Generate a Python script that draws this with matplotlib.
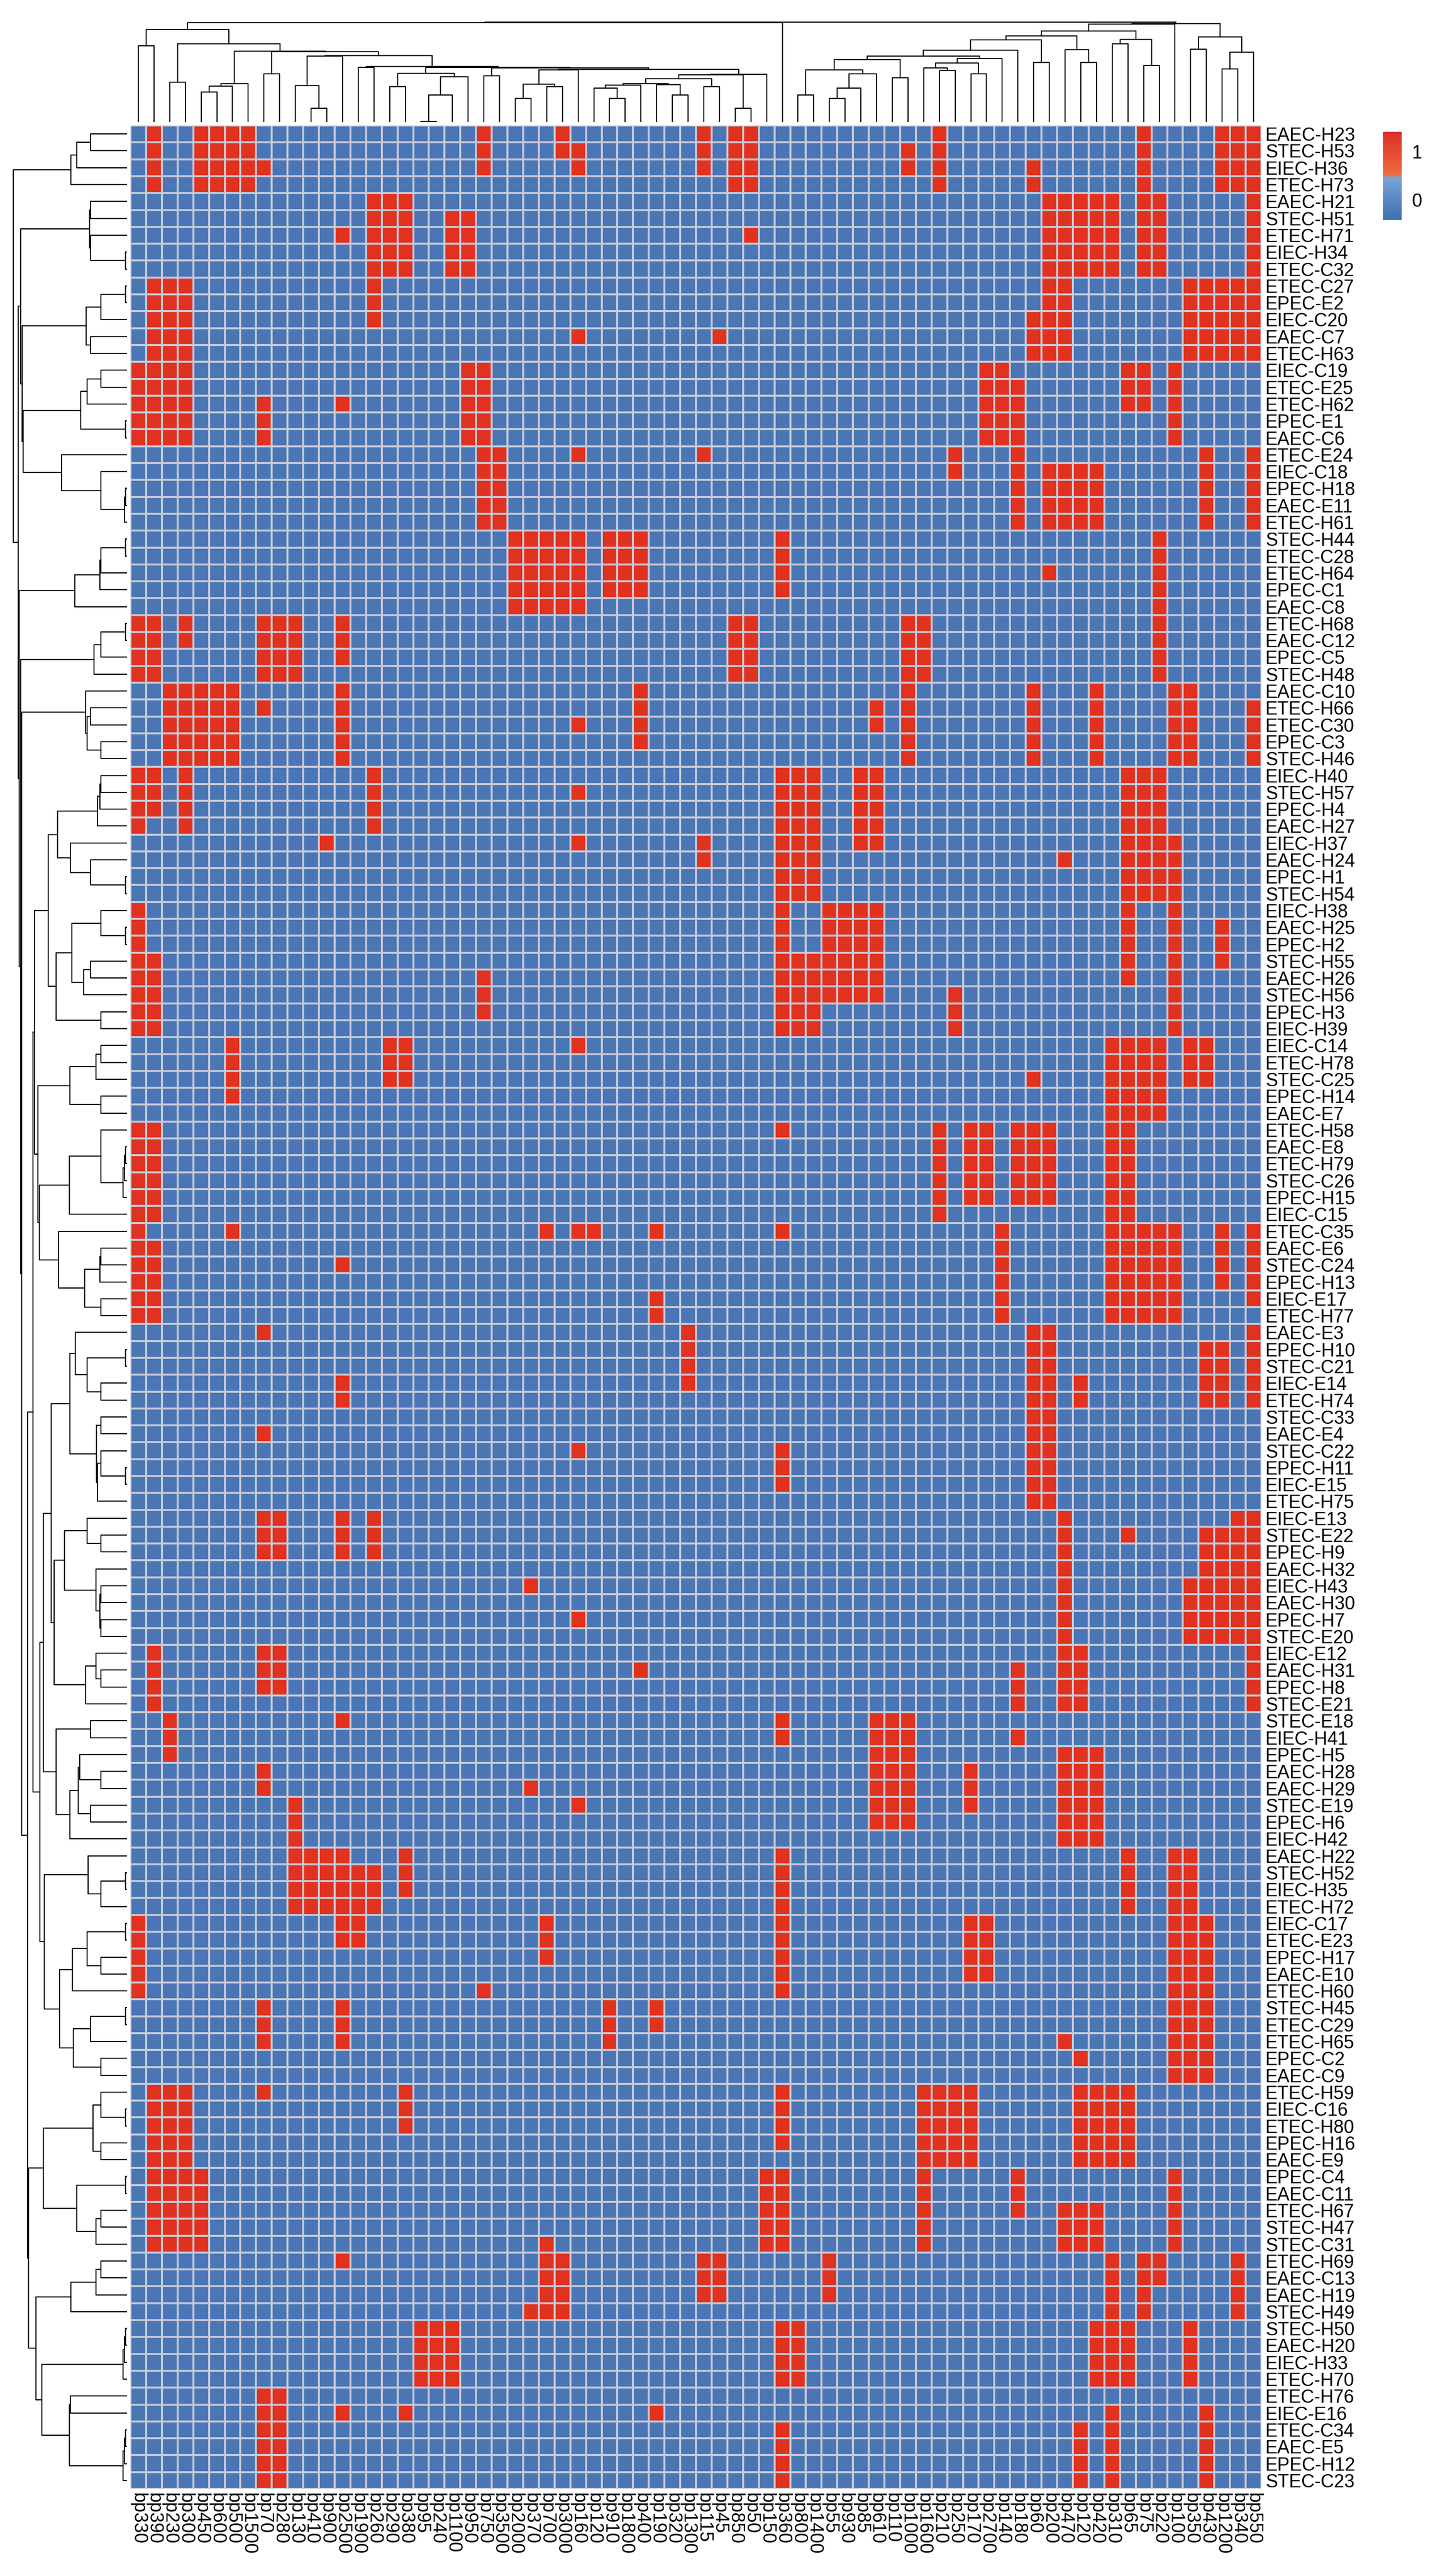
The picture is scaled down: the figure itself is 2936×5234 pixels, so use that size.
import numpy as np
import matplotlib
matplotlib.use("Agg")
import matplotlib.pyplot as plt
from matplotlib.colors import ListedColormap, LinearSegmentedColormap

plt.rcParams['font.family'] = ['Liberation Sans', 'DejaVu Sans']

row_labels = [
    "EAEC-H23", "STEC-H53", "EIEC-H36", "ETEC-H73", "EAEC-H21", "STEC-H51", "ETEC-H71", "EIEC-H34", "ETEC-C32", "ETEC-C27",
    "EPEC-E2", "EIEC-C20", "EAEC-C7", "ETEC-H63", "EIEC-C19", "ETEC-E25", "ETEC-H62", "EPEC-E1", "EAEC-C6", "ETEC-E24",
    "EIEC-C18", "EPEC-H18", "EAEC-E11", "ETEC-H61", "STEC-H44", "ETEC-C28", "ETEC-H64", "EPEC-C1", "EAEC-C8", "ETEC-H68",
    "EAEC-C12", "EPEC-C5", "STEC-H48", "EAEC-C10", "ETEC-H66", "ETEC-C30", "EPEC-C3", "STEC-H46", "EIEC-H40", "STEC-H57",
    "EPEC-H4", "EAEC-H27", "EIEC-H37", "EAEC-H24", "EPEC-H1", "STEC-H54", "EIEC-H38", "EAEC-H25", "EPEC-H2", "STEC-H55",
    "EAEC-H26", "STEC-H56", "EPEC-H3", "EIEC-H39", "EIEC-C14", "ETEC-H78", "STEC-C25", "EPEC-H14", "EAEC-E7", "ETEC-H58",
    "EAEC-E8", "ETEC-H79", "STEC-C26", "EPEC-H15", "EIEC-C15", "ETEC-C35", "EAEC-E6", "STEC-C24", "EPEC-H13", "EIEC-E17",
    "ETEC-H77", "EAEC-E3", "EPEC-H10", "STEC-C21", "EIEC-E14", "ETEC-H74", "STEC-C33", "EAEC-E4", "STEC-C22", "EPEC-H11",
    "EIEC-E15", "ETEC-H75", "EIEC-E13", "STEC-E22", "EPEC-H9", "EAEC-H32", "EIEC-H43", "EAEC-H30", "EPEC-H7", "STEC-E20",
    "EIEC-E12", "EAEC-H31", "EPEC-H8", "STEC-E21", "STEC-E18", "EIEC-H41", "EPEC-H5", "EAEC-H28", "EAEC-H29", "STEC-E19",
    "EPEC-H6", "EIEC-H42", "EAEC-H22", "STEC-H52", "EIEC-H35", "ETEC-H72", "EIEC-C17", "ETEC-E23", "EPEC-H17", "EAEC-E10",
    "ETEC-H60", "STEC-H45", "ETEC-C29", "ETEC-H65", "EPEC-C2", "EAEC-C9", "ETEC-H59", "EIEC-C16", "ETEC-H80", "EPEC-H16",
    "EAEC-E9", "EPEC-C4", "EAEC-C11", "ETEC-H67", "STEC-H47", "STEC-C31", "ETEC-H69", "EAEC-C13", "EAEC-H19", "STEC-H49",
    "STEC-H50", "EAEC-H20", "EIEC-H33", "ETEC-H70", "ETEC-H76", "EIEC-E16", "ETEC-C34", "EAEC-E5", "EPEC-H12", "STEC-C23",
]

col_labels = [
    "bp330", "bp390", "bp230", "bp300", "bp450", "bp600", "bp500", "bp1500", "bp70", "bp280",
    "bp130", "bp410", "bp900", "bp2500", "bp1900", "bp260", "bp290", "bp380", "bp95", "bp240",
    "bp1100", "bp950", "bp750", "bp3500", "bp2000", "bp370", "bp700", "bp3000", "bp160", "bp120",
    "bp910", "bp1800", "bp400", "bp190", "bp320", "bp1300", "bp115", "bp45", "bp850", "bp50",
    "bp150", "bp360", "bp800", "bp1400", "bp55", "bp930", "bp85", "bp610", "bp110", "bp1000",
    "bp1600", "bp210", "bp250", "bp170", "bp2700", "bp140", "bp180", "bp60", "bp200", "bp470",
    "bp120", "bp420", "bp310", "bp65", "bp75", "bp220", "bp100", "bp350", "bp430", "bp1200",
    "bp340", "bp550",
]

# red (=1) blocks: (first row, last row, first col, last col)
red_blocks = [
    (0, 3, 1, 1), (0, 3, 4, 7), (2, 2, 8, 8), (0, 2, 22, 22), (0, 1, 27, 27), (1, 2, 28, 28),
    (0, 2, 36, 36), (0, 3, 38, 39), (1, 2, 49, 49), (0, 3, 51, 51), (2, 3, 57, 57), (0, 8, 64, 64),
    (0, 3, 69, 71),
    (4, 8, 15, 17), (5, 8, 20, 21), (6, 6, 13, 13), (6, 6, 39, 39), (4, 8, 58, 62), (4, 8, 65, 65),
    (4, 13, 71, 71),
    (9, 13, 1, 3), (9, 11, 15, 15), (12, 12, 28, 28), (12, 12, 37, 37), (11, 13, 57, 57),
    (9, 13, 58, 59), (9, 13, 67, 70),
    (14, 18, 0, 3), (16, 18, 8, 8), (16, 16, 13, 13), (14, 18, 21, 22), (14, 18, 54, 55),
    (15, 18, 56, 56), (14, 16, 63, 64), (14, 18, 66, 66),
    (19, 23, 22, 23), (19, 19, 28, 28), (19, 19, 36, 36), (19, 20, 52, 52), (19, 23, 56, 56),
    (20, 23, 58, 61), (19, 23, 68, 68), (19, 23, 71, 71),
    (24, 28, 24, 28), (24, 27, 30, 32), (24, 27, 41, 41), (26, 26, 58, 58), (24, 28, 65, 65),
    (29, 32, 0, 1), (29, 30, 3, 3), (29, 32, 8, 10), (29, 31, 13, 13), (29, 32, 38, 39),
    (29, 32, 49, 50), (29, 32, 65, 65),
    (33, 37, 2, 6), (34, 34, 8, 8), (33, 37, 13, 13), (35, 35, 28, 28), (33, 36, 32, 32),
    (34, 35, 47, 47), (33, 37, 49, 49), (33, 37, 57, 57), (33, 37, 61, 61), (33, 37, 66, 67),
    (34, 37, 71, 71),
    (38, 41, 0, 0), (38, 40, 1, 1), (38, 41, 3, 3), (38, 41, 15, 15), (39, 39, 28, 28),
    (38, 45, 41, 43), (38, 42, 46, 47), (43, 43, 59, 59), (38, 45, 63, 65), (42, 45, 66, 66),
    (42, 42, 12, 12), (42, 43, 36, 36), (42, 42, 28, 28),
    (46, 53, 0, 0), (49, 53, 1, 1), (46, 53, 41, 41), (49, 53, 42, 43), (46, 51, 44, 47),
    (50, 52, 22, 22), (51, 53, 52, 52), (46, 50, 63, 63), (46, 53, 66, 66), (47, 49, 69, 69),
    (54, 57, 6, 6), (54, 56, 16, 17), (54, 58, 62, 65), (54, 56, 67, 68), (54, 54, 28, 28),
    (56, 56, 57, 57),
    (59, 64, 0, 1), (59, 59, 41, 41), (59, 64, 51, 51), (59, 63, 53, 54), (59, 63, 56, 58),
    (59, 64, 62, 63),
    (65, 70, 0, 0), (66, 70, 1, 1), (65, 65, 6, 6), (67, 67, 13, 13), (65, 65, 26, 26),
    (65, 65, 28, 29), (65, 65, 33, 33), (65, 65, 41, 41), (65, 70, 55, 55), (65, 70, 62, 66),
    (65, 68, 69, 69), (65, 69, 71, 71), (69, 70, 33, 33),
    (71, 71, 8, 8), (71, 74, 35, 35), (71, 81, 57, 58), (74, 75, 60, 60), (72, 75, 68, 69),
    (71, 75, 71, 71), (74, 75, 13, 13), (77, 77, 8, 8), (78, 78, 28, 28), (78, 80, 41, 41),
    (82, 84, 8, 9), (82, 84, 13, 13), (82, 84, 15, 15), (82, 89, 59, 59), (83, 83, 63, 63),
    (83, 85, 68, 69), (82, 85, 70, 71), (86, 89, 67, 71), (86, 86, 25, 25), (88, 88, 28, 28),
    (90, 93, 1, 1), (90, 92, 8, 9), (91, 91, 32, 32), (90, 93, 59, 60), (90, 93, 71, 71),
    (91, 93, 56, 56),
    (94, 96, 2, 2), (97, 98, 8, 8), (99, 101, 10, 10), (94, 94, 13, 13), (94, 95, 41, 41),
    (94, 100, 47, 49), (97, 99, 53, 53), (95, 95, 56, 56), (96, 101, 59, 61), (98, 98, 25, 25),
    (99, 99, 28, 28),
    (102, 105, 10, 13), (103, 105, 14, 15), (102, 104, 17, 17), (102, 105, 41, 41),
    (102, 105, 63, 63), (102, 105, 66, 67),
    (106, 110, 0, 0), (106, 107, 13, 14), (106, 108, 26, 26), (106, 110, 41, 41),
    (106, 109, 53, 54), (106, 115, 66, 68), (110, 110, 22, 22), (111, 113, 30, 30),
    (111, 112, 33, 33), (111, 113, 13, 13), (111, 113, 8, 8), (113, 113, 59, 59), (114, 114, 60, 60),
    (116, 120, 1, 3), (116, 116, 8, 8), (116, 118, 17, 17), (116, 119, 41, 41), (116, 120, 50, 53),
    (116, 120, 60, 63),
    (121, 125, 1, 4), (121, 125, 40, 41), (121, 125, 50, 50), (121, 123, 56, 56),
    (123, 125, 59, 61), (121, 125, 66, 66), (125, 125, 26, 26),
    (126, 126, 13, 13), (126, 129, 26, 27), (126, 128, 36, 37), (126, 128, 44, 44),
    (126, 129, 62, 62), (126, 129, 64, 64), (126, 127, 65, 65), (126, 129, 70, 70), (129, 129, 25, 25),
    (130, 133, 18, 20), (130, 133, 41, 42), (130, 133, 61, 63), (130, 133, 67, 67),
    (134, 139, 8, 9), (135, 135, 13, 13), (135, 135, 17, 17), (135, 135, 33, 33),
    (136, 139, 41, 41), (136, 139, 60, 60), (135, 139, 62, 62), (135, 139, 68, 68),
]

n_rows, n_cols = len(row_labels), len(col_labels)
mat = np.zeros((n_rows, n_cols))
for r0, r1, c0, c1 in red_blocks:
    mat[r0:r1 + 1, c0:c1 + 1] = 1


def ordered_linkage(vecs):
    # average linkage, only neighbours in the shown order may merge
    clusters = [([i], float(i), 0.0) for i in range(len(vecs))]
    links = []
    while len(clusters) > 1:
        best, best_d = 0, None
        for k in range(len(clusters) - 1):
            a, b = vecs[clusters[k][0]], vecs[clusters[k + 1][0]]
            d = np.sqrt(((a[:, None, :] - b[None, :, :]) ** 2).sum(-1)).mean()
            if best_d is None or d < best_d:
                best, best_d = k, d
        ca, cb = clusters[best], clusters[best + 1]
        h = max(best_d, ca[2], cb[2]) + 0.05
        links.append((ca[1], ca[2], cb[1], cb[2], h))
        clusters[best:best + 2] = [(ca[0] + cb[0], (ca[1] + cb[1]) / 2, h)]
    return links


W, H = 2936, 5234
fig = plt.figure(figsize=(W / 100, H / 100), dpi=100)
hx0, hx1, hy0, hy1 = 265, 2563, 255, 5057
ax = fig.add_axes([hx0 / W, 1 - hy1 / H, (hx1 - hx0) / W, (hy1 - hy0) / H])
cmap = ListedColormap(["#4a76b6", "#e0321f"])
ax.pcolormesh(mat, cmap=cmap, vmin=0, vmax=1, edgecolors="#c9c9d6", linewidth=1.5)
ax.set_xlim(0, n_cols)
ax.set_ylim(n_rows, 0)
ax.set_xticks(np.arange(n_cols) + 0.5)
ax.set_xticklabels(col_labels, rotation=270, fontsize=27)
ax.set_yticks(np.arange(n_rows) + 0.5)
ax.set_yticklabels(row_labels, fontsize=27)
ax.yaxis.tick_right()
ax.tick_params(length=0, pad=6)
for s in ax.spines.values():
    s.set_visible(False)

# row dendrogram
axl = fig.add_axes([15 / W, 1 - hy1 / H, (hx0 - 22) / W, (hy1 - hy0) / H])
for pa, ha, pb, hb, h in ordered_linkage(mat):
    axl.plot([ha, h, h, hb], [pa + 0.5, pa + 0.5, pb + 0.5, pb + 0.5], color="black", lw=1.6)
axl.set_ylim(n_rows, 0)
axl.set_xlim(axl.get_xlim()[1], 0)
axl.axis("off")

# column dendrogram
axt = fig.add_axes([hx0 / W, 1 - 248 / H, (hx1 - hx0) / W, 213 / H])
for pa, ha, pb, hb, h in ordered_linkage(mat.T):
    axt.plot([pa + 0.5, pa + 0.5, pb + 0.5, pb + 0.5], [ha, h, h, hb], color="black", lw=1.6)
axt.set_xlim(0, n_cols)
axt.set_ylim(0, None)
axt.axis("off")

# legend bar
axc = fig.add_axes([2810 / W, 1 - 447 / H, 38 / W, 179 / H])
leg = LinearSegmentedColormap.from_list("leg", [(0, "#3f6fb3"), (0.48, "#7aa3d4"),
                                                (0.52, "#f06a3a"), (1, "#d9302a")])
axc.imshow(np.linspace(1, 0, 200)[:, None], aspect="auto", cmap=leg, vmin=0, vmax=1,
           extent=[0, 1, 0, 1])
axc.set_xticks([])
axc.set_yticks([])
for s in axc.spines.values():
    s.set_visible(False)
fig.text(2868 / W, 1 - 312 / H, "1", fontsize=27, va="center")
fig.text(2868 / W, 1 - 410 / H, "0", fontsize=27, va="center")

fig.savefig("out.png", dpi=100)
